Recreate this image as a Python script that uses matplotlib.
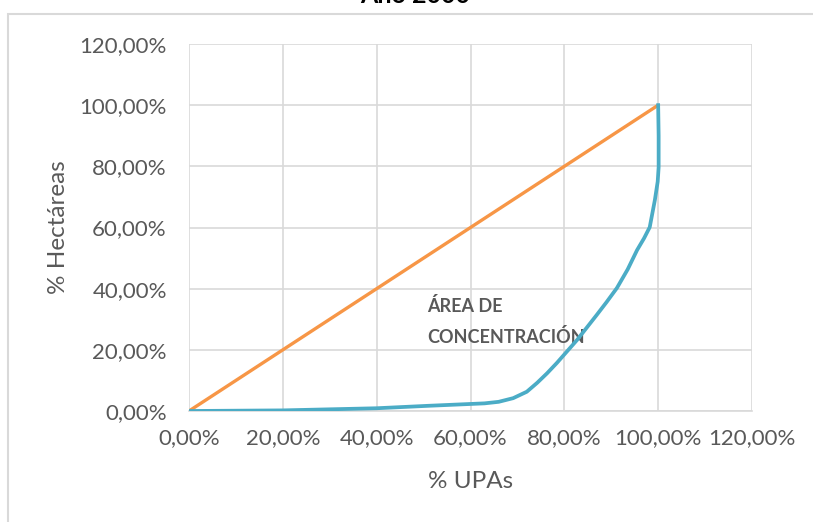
import matplotlib
matplotlib.use("Agg")
import matplotlib.pyplot as plt
from matplotlib.patches import Rectangle

# Data (percent)
upas_pct = [0, 20, 40, 51, 60, 63, 66, 69.1, 72, 74.2, 76.3, 78.4, 82.7, 86.9, 89, 91.2, 93.5, 95.5, 97, 98.2, 99.3, 99.9, 100.1, 100.1, 100]
hect_pct = [0, 0.2, 0.9, 1.7, 2.3, 2.5, 3.0, 4.2, 6.3, 9.2, 12.3, 15.7, 23.2, 31.4, 35.6, 40.2, 46.3, 52.6, 56.5, 60.1, 69, 75, 79.7, 90, 100]
equality_x = [0, 100]
equality_y = [0, 100]
ticks = [0, 20, 40, 60, 80, 100, 120]
tick_labels = ["0,00%", "20,00%", "40,00%", "60,00%", "80,00%", "100,00%", "120,00%"]

plt.rcParams['font.family'] = ['Lato', 'DejaVu Sans']
gray = '#595959'

fig = plt.figure(figsize=(8.13, 5.22), dpi=100)
fig.patches.append(Rectangle((8/813, -0.05), 1.0, 1 - 14/522 + 0.05, transform=fig.transFigure,
                             fill=False, edgecolor='#d9d9d9', linewidth=1.5))
ax = fig.add_axes([189/813, 1 - 411/522, (752 - 189)/813, (411 - 44)/522])

ax.plot(equality_x, equality_y, color='#f79646', linewidth=2.4, solid_capstyle='butt', zorder=3)
ax.plot(upas_pct, hect_pct, color='#4bacc6', linewidth=2.7, zorder=4,
        solid_joinstyle='round')

ax.set_xlim(0, 120)
ax.set_ylim(0, 120)
ax.set_xticks(ticks)
ax.set_yticks(ticks)
ax.set_xticklabels(tick_labels)
ax.set_yticklabels(tick_labels)
ax.tick_params(length=0, labelsize=16, colors=gray)
ax.tick_params(axis='y', pad=16)
ax.tick_params(axis='x', pad=12)
ax.grid(True, color='#d9d9d9', linewidth=1.2)
ax.set_axisbelow(True)
for s in ['top', 'right', 'left']:
    ax.spines[s].set_visible(False)
ax.spines['bottom'].set_color('#d9d9d9')
ax.spines['bottom'].set_linewidth(1.2)

ax.set_xlabel('% UPAs', fontsize=17.5, color=gray)
ax.set_ylabel('% Hectáreas', fontsize=17.5, color=gray)
ax.xaxis.label.set_va('center')
ax.yaxis.label.set_va('center')
ax.xaxis.set_label_coords(0.5, (411 - 482) / 367)
ax.yaxis.set_label_coords((58 - 189) / 563, 0.5)

ax.text(50.7, 34.3, 'ÁREA DE', fontsize=13, fontweight='bold', color=gray, va='center', ha='left')
ax.text(50.7, 24.2, 'CONCENTRACIÓN', fontsize=13, fontweight='bold', color=gray, va='center', ha='left')

fig.text(415/813, 1 - 3/522, 'Año 2000', fontsize=18, fontweight='bold', color='black',
         ha='center', va='baseline')

fig.savefig('out.png', dpi=100)
